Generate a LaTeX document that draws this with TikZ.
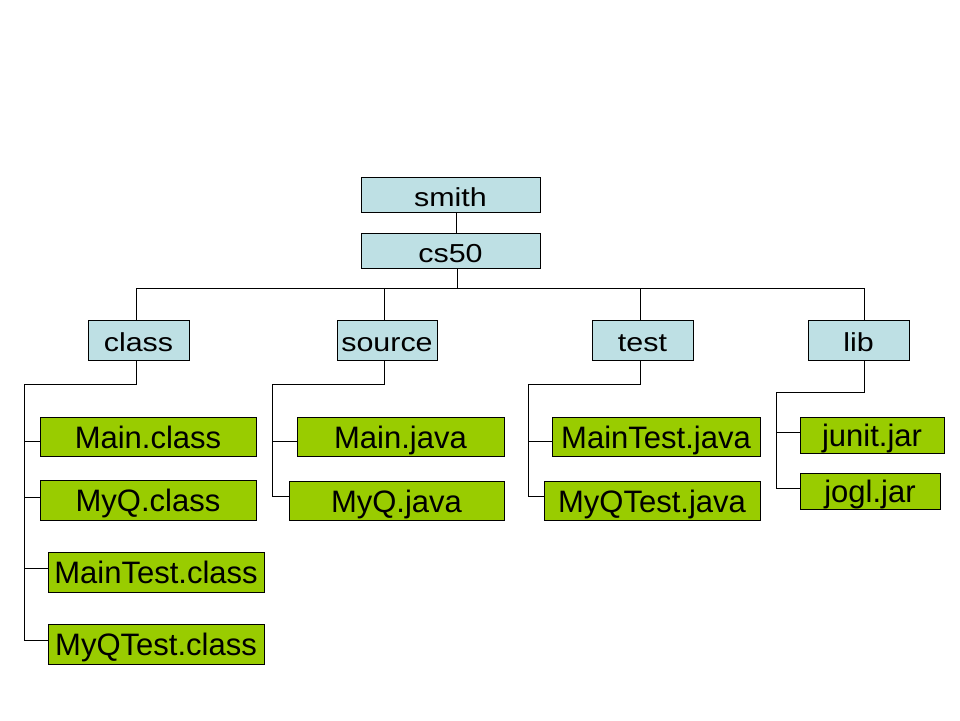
\documentclass[tikz,border=0pt]{standalone}
\usepackage{fontspec}
\setmainfont{Liberation Sans}
\newfontfamily\bluefont[FakeStretch=1.17]{Liberation Sans}
\usetikzlibrary{calc}
\definecolor{dirblue}{RGB}{190,224,228}
\definecolor{filegreen}{RGB}{153,204,0}
\tikzset{
  box/.style={draw=black, line width=1pt, inner sep=0pt, outer sep=0pt, anchor=center,
    text height=23pt, text depth=0pt},
  dirbox/.style={box, fill=dirblue, font=\bluefont\fontsize{26}{30}\selectfont},
  filebox/.style={box, fill=filegreen, font=\fontsize{31}{35}\selectfont},
  conn/.style={draw=black, line width=1pt},
}
\begin{document}
\begin{tikzpicture}[x=1pt, y=-1pt]
\useasboundingbox[fill=white] (0,0) rectangle (960,720);

% directory nodes
\node[dirbox, minimum width=179pt, minimum height=35pt] (smith) at (450.5,194.5) {smith};
\node[dirbox, minimum width=179pt, minimum height=35pt] (cs50) at (450.5,250.5) {cs50};
\node[dirbox, minimum width=101pt, minimum height=40pt] (class) at (138.5,340) {class};
\node[dirbox, minimum width=100pt, minimum height=40pt] (source) at (387,340) {source};
\node[dirbox, minimum width=101pt, minimum height=40pt] (test) at (642.5,340) {test};
\node[dirbox, minimum width=101pt, minimum height=40pt] (lib) at (858.5,340) {lib};

% file nodes
\node[filebox, minimum width=216pt, minimum height=39pt] (mainc) at (148,436.5) {Main.class};
\node[filebox, minimum width=216pt, minimum height=40pt] (myqc) at (148,500) {MyQ.class};
\node[filebox, minimum width=216pt, minimum height=40pt] (maintc) at (156,572) {MainTest.class};
\node[filebox, minimum width=216pt, minimum height=40pt] (myqtc) at (156,644) {MyQTest.class};
\node[filebox, minimum width=207pt, minimum height=39pt] (mainj) at (400.5,436.5) {Main.java};
\node[filebox, minimum width=215pt, minimum height=39pt] (myqj) at (396.5,500.5) {MyQ.java};
\node[filebox, minimum width=208pt, minimum height=39pt] (maintj) at (656,436.5) {MainTest.java};
\node[filebox, minimum width=216pt, minimum height=39pt] (myqtj) at (652,500.5) {MyQTest.java};
\node[filebox, minimum width=144pt, minimum height=36pt] (junit) at (872,435) {junit.jar};
\node[filebox, minimum width=140pt, minimum height=36pt] (jogl) at (870,491) {jogl.jar};

% helper coordinates
\coordinate (bus) at (0,288);
\coordinate (clsTop) at (24,384);
\coordinate (srcTop) at (272,384);
\coordinate (tstTop) at (528,384);
\coordinate (libTop) at (776,392);

% top connectors
\draw[conn] ($(smith.south)+(5.5,0)$) -- ($(cs50.north)+(5.5,0)$);
\draw[conn] ($(cs50.south)+(6.5,0)$) -- ($(cs50.south |- bus)+(6.5,0)$);
\draw[conn] ($(class.north)+(-2,0)$) -- ($(class.north |- bus)+(-2,0)$)
  -- ($(lib.north |- bus)+(5.5,0)$) -- ($(lib.north)+(5.5,0)$);
\draw[conn] ($(source.north)+(-3,0)$) -- ($(source.north |- bus)+(-3,0)$);
\draw[conn] ($(test.north)+(-2.5,0)$) -- ($(test.north |- bus)+(-2.5,0)$);

% class branch
\draw[conn] ($(class.south)+(-2,0)$) |- (clsTop) -- ($(clsTop |- myqtc.west)+(0,-4)$) -- ($(myqtc.west)+(0,-4)$);
\draw[conn] ($(clsTop |- mainc.west)+(0,4.5)$) -- ($(mainc.west)+(0,4.5)$);
\draw[conn] ($(clsTop |- myqc.west)+(0,-3)$) -- ($(myqc.west)+(0,-3)$);
\draw[conn] ($(clsTop |- maintc.west)+(0,-4)$) -- ($(maintc.west)+(0,-4)$);

% source branch
\draw[conn] ($(source.south)+(-3,0)$) |- (srcTop) -- ($(srcTop |- myqj.west)+(0,-4.5)$) -- ($(myqj.west)+(0,-4.5)$);
\draw[conn] ($(srcTop |- mainj.west)+(0,4.5)$) -- ($(mainj.west)+(0,4.5)$);

% test branch
\draw[conn] ($(test.south)+(-2.5,0)$) |- (tstTop) -- ($(tstTop |- myqtj.west)+(0,-4.5)$) -- ($(myqtj.west)+(0,-4.5)$);
\draw[conn] ($(tstTop |- maintj.west)+(0,4.5)$) -- ($(maintj.west)+(0,4.5)$);

% lib branch
\draw[conn] ($(lib.south)+(5.5,0)$) |- (libTop) -- ($(libTop |- jogl.west)+(0,-3)$) -- ($(jogl.west)+(0,-3)$);
\draw[conn] ($(libTop |- junit.west)+(0,-3)$) -- ($(junit.west)+(0,-3)$);
\end{tikzpicture}
\end{document}
